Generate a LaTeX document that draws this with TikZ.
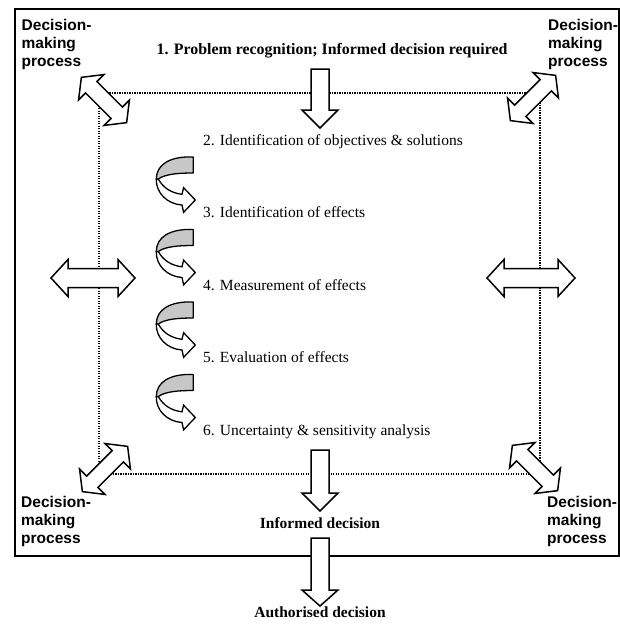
\documentclass[tikz,border=0pt]{standalone}
\usepackage{fontspec}
\setmainfont{Liberation Serif}
\setsansfont{Liberation Sans}

% double-headed block arrow: centre x, centre y, angle, half length,
% head length, head half width, shaft half width
\newcommand{\twoway}[7]{%
  \begin{scope}[shift={(#1,#2)}, rotate=#3]
    \draw[blockarrow] ({-#4},0) -- ({-#4+#5},#6) -- ({-#4+#5},#7) -- ({#4-#5},#7)
      -- ({#4-#5},#6) -- ({#4},0) -- ({#4-#5},{-#6}) -- ({#4-#5},{-#7})
      -- ({-#4+#5},{-#7}) -- ({-#4+#5},{-#6}) -- cycle;
  \end{scope}}

% downward block arrow: centre x, shaft top, head base, tip
\newcommand{\downblock}[4]{%
  \draw[blockarrow] ({#1-9},#2) -- ({#1+9},#2) -- ({#1+9},#3) -- ({#1+18},#3)
    -- (#1,#4) -- ({#1-18},#3) -- ({#1-9},#3) -- cycle;}

% curling ribbon arrow, origin at the top right of its shaded back
\newcommand{\curlarrow}[2]{%
  \begin{scope}[shift={(#1,#2)}]
    \draw[curlfront] (-35,22) .. controls (-30,31) and (-22,36) .. (-11.3,37.3)
      -- (-9.7,30.7) -- (2,43) -- (-9.7,55.3) -- (-11.3,48)
      .. controls (-26,47) and (-37.5,36) .. (-37,22) -- cycle;
    \draw[curlback] (0,0) -- (0,16) .. controls (-15,16) and (-28,17) .. (-35,22)
      -- (-37,22) .. controls (-37,8) and (-24,-1) .. (0,0) -- cycle;
  \end{scope}}

\begin{document}
\begin{tikzpicture}[x=1pt, y=-1pt,
  frame/.style={line width=1.8pt},
  dotline/.style={line width=1.1pt, dash pattern=on 1.1pt off 1.4pt},
  blockarrow/.style={draw=black, fill=white, line width=1.5pt, line join=miter},
  curlback/.style={draw=black, fill=black!22, line width=1.3pt, line join=round},
  curlfront/.style={draw=black, fill=white, line width=1.3pt, line join=miter},
  steptext/.style={font=\fontsize{15.5}{18}\selectfont, anchor=base west, inner sep=0pt},
  keytext/.style={font=\bfseries\fontsize{15.5}{18}\selectfont, anchor=base, inner sep=0pt},
  dmp/.style={font=\sffamily\bfseries\fontsize{15.5}{18.2}\selectfont, align=left,
    anchor=north west, inner sep=0pt}]

\useasboundingbox (0,0) rectangle (620,624);

% outer frame and dotted inner frame
\draw[frame] (15,9.3) rectangle (619,556);
\draw[dotline] (99,93) rectangle (540,474);

% links to the decision-making process
\twoway{104}{100}{-45}{32}{14}{18}{8}
\twoway{533}{98}{45}{32}{14}{18}{8}
\twoway{105}{469}{45}{32}{14}{18}{8}
\twoway{535}{468}{-45}{32}{14}{18}{8}
\twoway{93}{278}{0}{42}{17}{18.5}{9.5}
\twoway{531}{278}{0}{44}{17}{18.5}{9.5}

% main flow
\downblock{320}{69}{110}{128}
\downblock{320}{450}{493}{511}
\downblock{320}{538}{590}{606}

% iteration between steps
\curlarrow{193.3}{157}
\curlarrow{193.3}{229.5}
\curlarrow{193.3}{302}
\curlarrow{193.3}{374.5}

% texts
\node[keytext, font=\bfseries\fontsize{15.9}{18}\selectfont] (problem) at (332,54)
  {1. Problem recognition; Informed decision required};
\node[steptext] (s2) at (203,145) {2. Identification of objectives \& solutions};
\node[steptext] (s3) at (203,217.5) {3. Identification of effects};
\node[steptext] (s4) at (203,290) {4. Measurement of effects};
\node[steptext] (s5) at (203,362.5) {5. Evaluation of effects};
\node[steptext] (s6) at (203,435) {6. Uncertainty \& sensitivity analysis};
\node[keytext] (informed) at (320,528) {Informed decision};
\node[keytext] (authorised) at (320,617) {Authorised decision};

\node[dmp] (dmptl) at (21.5,18.9) {Decision-\\making\\process};
\node[dmp] (dmptr) at (548,18.9) {Decision-\\making\\process};
\node[dmp] (dmpbl) at (21,495.6) {Decision-\\making\\process};
\node[dmp] (dmpbr) at (547,495.6) {Decision-\\making\\process};
\end{tikzpicture}
\end{document}
